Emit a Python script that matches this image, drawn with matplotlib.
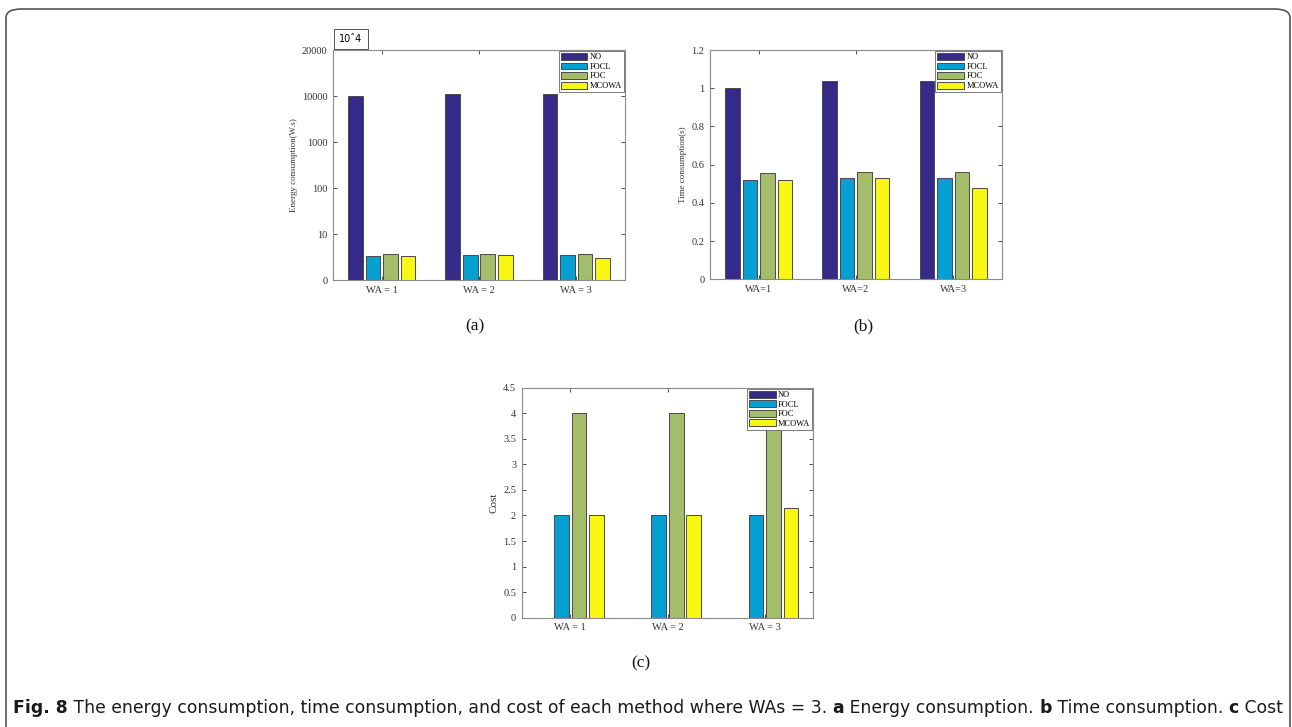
"""
Fig. 8: energy consumption, time consumption and cost of each method (WAs = 3)
"""
import numpy as np
import matplotlib
matplotlib.use('Agg')
import matplotlib.pyplot as plt
from matplotlib.patches import FancyBboxPatch

# methods and colours
methods = ['NO', 'FOCL', 'FOC', 'MCOWA']
colors = ['#352a87', '#069fd1', '#a4bd6a', '#f7f712']

# (a) energy consumption (W.s), log-like axis
energy_labels = ['WA = 1', 'WA = 2', 'WA = 3']
energy_no = [10000, 11000, 11000]
energy_focl = [3.3, 3.45, 3.45]
energy_foc = [3.6, 3.7, 3.7]
energy_mcowa = [3.3, 3.45, 3.05]
energy_ticks = [1, 10, 100, 1000, 10000, 100000]
energy_ticklabels = ['0', '10', '100', '1000', '10000', '20000']

# (b) time consumption (s)
time_labels = ['WA=1', 'WA=2', 'WA=3']
time_no = [1.0, 1.037, 1.037]
time_focl = [0.52, 0.53, 0.53]
time_foc = [0.555, 0.56, 0.56]
time_mcowa = [0.52, 0.53, 0.48]

# (c) cost
cost_labels = ['WA = 1', 'WA = 2', 'WA = 3']
cost_no = [0, 0, 0]
cost_focl = [2, 2, 2]
cost_foc = [4, 4, 4]
cost_mcowa = [2, 2, 2.15]

SERIF = ['Liberation Serif', 'DejaVu Serif']
W, H = 1292, 727


def draw_bars(ax, series, labels, ylabel, ylabel_size=6.5):
    x = np.arange(1, len(labels) + 1)
    offsets = [-0.27, -0.09, 0.09, 0.27]
    for vals, off, col, name in zip(series, offsets, colors, methods):
        ax.bar(x + off, vals, width=0.15, color=col, edgecolor='#4a4a4a',
               linewidth=0.7, label=name)
    ax.set_xlim(0.5, len(labels) + 0.5)
    ax.set_xticks(x)
    ax.set_xticklabels(labels, fontfamily=SERIF, fontsize=7.5, color='#333333')
    ax.set_ylabel(ylabel, fontfamily=SERIF, fontsize=ylabel_size, color='#333333',
                  labelpad=3)
    ax.tick_params(direction='in', length=3, width=0.6, top=True, right=True,
                   labelsize=7.5, colors='#333333', pad=4)
    ax.tick_params(which='minor', length=0)
    for lab in ax.get_yticklabels():
        lab.set_fontfamily(SERIF)
    for sp in ax.spines.values():
        sp.set_color('#8a8a8a')
        sp.set_linewidth(0.8)
    leg = ax.legend(loc='upper right', borderaxespad=0.1, fancybox=False,
                    prop={'family': SERIF, 'size': 6}, handlelength=3.2,
                    handleheight=0.9, handletextpad=0.3, labelspacing=0.15,
                    borderpad=0.25, framealpha=1)
    leg.get_frame().set_edgecolor('#666666')
    leg.get_frame().set_linewidth(0.6)


fig = plt.figure(figsize=(W / 100, H / 100), dpi=100)

# outer rounded border
fig.patches.append(FancyBboxPatch((6 / W, -0.05), 1284 / W, 1 - 9 / H + 0.05,
                                  boxstyle='round,pad=0,rounding_size=0.012',
                                  transform=fig.transFigure, fill=False,
                                  edgecolor='#555555', linewidth=1.2))

# (a)
ax_a = fig.add_axes([333 / W, 1 - 280 / H, 292 / W, 230 / H])
draw_bars(ax_a, [energy_no, energy_focl, energy_foc, energy_mcowa],
          energy_labels, 'Energy consumption(W.s)')
ax_a.set_yscale('log')
ax_a.set_ylim(1, 100000)
ax_a.set_yticks(energy_ticks)
ax_a.set_yticklabels(energy_ticklabels, fontfamily=SERIF)
ax_a.yaxis.set_minor_locator(matplotlib.ticker.NullLocator())
fig.text(339 / W, 1 - 39 / H, '10ˆ4', fontsize=7, fontfamily='DejaVu Sans',
         va='center', ha='left',
         bbox=dict(boxstyle='square,pad=0.55', fc='white', ec='#555555', lw=0.7))

# (b)
ax_b = fig.add_axes([710 / W, 1 - 279.3 / H, 291.7 / W, 229.3 / H])
draw_bars(ax_b, [time_no, time_focl, time_foc, time_mcowa],
          time_labels, 'Time consumption(s)')
ax_b.set_ylim(0, 1.2)
ax_b.set_yticks([0, 0.2, 0.4, 0.6, 0.8, 1.0, 1.2])
ax_b.set_yticklabels(['0', '0.2', '0.4', '0.6', '0.8', '1', '1.2'], fontfamily=SERIF)

# (c)
ax_c = fig.add_axes([521.7 / W, 1 - 617.7 / H, 291.6 / W, 230 / H])
draw_bars(ax_c, [cost_no, cost_focl, cost_foc, cost_mcowa],
          cost_labels, 'Cost', ylabel_size=8)
ax_c.set_ylim(0, 4.5)
ax_c.set_yticks(np.arange(0, 4.51, 0.5))
ax_c.set_yticklabels(['0', '0.5', '1', '1.5', '2', '2.5', '3', '3.5', '4', '4.5'],
                     fontfamily=SERIF)

# panel letters
for px, py, txt in [(475, 326, '(a)'), (863, 326, '(b)'), (641, 663, '(c)')]:
    fig.text(px / W, 1 - py / H, txt, fontsize=12.5, fontfamily=SERIF,
             ha='center', va='center', color='#111111')

# caption with bold parts, laid out piece by piece
caption = [('Fig. 8', True), (' The energy consumption, time consumption, and cost of '
           'each method where WAs = 3. ', False), ('a', True),
           (' Energy consumption. ', False), ('b', True),
           (' Time consumption. ', False), ('c', True), (' Cost', False)]
CAP_FONT = ['DejaVu Sans']
renderer = fig.canvas.get_renderer()
x_px = 13
for txt, bold in caption:
    t = fig.text(x_px / W, 1 - 708 / H, txt, fontsize=12.45, fontfamily=CAP_FONT,
                 fontweight='bold' if bold else 'normal', ha='left', va='center',
                 color='#1a1a1a')
    x_px = t.get_window_extent(renderer).x1

fig.savefig('out.png', dpi=100)
